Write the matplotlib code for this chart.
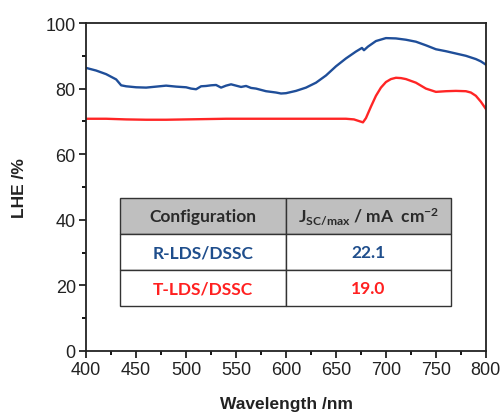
import numpy as np
import matplotlib
matplotlib.use("Agg")
import matplotlib.pyplot as plt
from matplotlib.ticker import MultipleLocator

plt.rcParams['font.family'] = ['Liberation Sans', 'DejaVu Sans']
plt.rcParams['mathtext.default'] = 'regular'

# LHE curves
wl_r = [400, 410, 420, 430, 435, 440, 450, 460, 470, 480, 490, 500, 505, 510, 515,
        520, 525, 530, 535, 540, 545, 550, 555, 560, 565, 570, 580, 590, 595, 600,
        610, 620, 630, 640, 650, 660, 670, 676, 678, 682, 690, 700, 710, 720, 730,
        740, 750, 760, 770, 780, 790, 795, 800]
lhe_r = [86.3, 85.5, 84.4, 82.8, 81.0, 80.7, 80.4, 80.3, 80.6, 80.9, 80.6, 80.4, 80.0, 79.8, 80.7,
         80.8, 81.0, 81.1, 80.3, 80.9, 81.3, 80.9, 80.5, 80.8, 80.2, 80.0, 79.2, 78.8, 78.5, 78.6,
         79.3, 80.3, 81.8, 84.0, 86.8, 89.2, 91.3, 92.4, 91.7, 92.8, 94.5, 95.4, 95.3, 94.9, 94.3,
         93.2, 92.0, 91.4, 90.7, 90.0, 89.0, 88.3, 87.3]

wl_t = [400, 420, 440, 460, 480, 500, 520, 540, 560, 580, 600, 620, 640, 660, 668,
        674, 677, 680, 685, 690, 695, 700, 705, 710, 715, 720, 730, 740, 750, 760,
        770, 780, 785, 790, 795, 800]
lhe_t = [70.8, 70.8, 70.6, 70.5, 70.5, 70.6, 70.7, 70.8, 70.8, 70.8, 70.8, 70.8, 70.8, 70.8, 70.6,
         70.0, 69.7, 71.0, 74.5, 77.8, 80.3, 82.0, 82.9, 83.3, 83.2, 82.9, 81.8, 80.0, 79.0, 79.2,
         79.3, 79.2, 78.8, 77.8, 76.0, 73.8]

configs = ['R-LDS/DSSC', 'T-LDS/DSSC']
jsc = ['22.1', '19.0']
blue = '#1f4e99'
red = '#ff2525'
txt_colors = ['#1f4e8c', '#ff2020']

fig = plt.figure(figsize=(5.04, 4.14), dpi=100)
ax = fig.add_axes([0.171, 0.150, 0.793, 0.792])

ax.plot(wl_r, lhe_r, color=blue, lw=1.7)
ax.plot(wl_t, lhe_t, color=red, lw=1.7)

ax.set_xlim(400, 800)
ax.set_ylim(0, 100)
ax.xaxis.set_major_locator(MultipleLocator(50))
ax.xaxis.set_minor_locator(MultipleLocator(25))
ax.yaxis.set_major_locator(MultipleLocator(20))
ax.yaxis.set_minor_locator(MultipleLocator(10))
ax.tick_params(which='major', direction='out', length=5, width=1.3, labelsize=13,
               colors='#222222', pad=2.5)
ax.tick_params(which='minor', direction='out', length=3, width=1.3)
for s in ax.spines.values():
    s.set_linewidth(1.3)
    s.set_color('#222222')

ax.set_xlabel('Wavelength /nm', fontsize=12.5, fontweight='bold', labelpad=13, color='#222222')
ax.set_ylabel('LHE /%', fontsize=12.5, fontweight='bold', labelpad=13, color='#222222')

# table
header = ['Configuration', r'J$_{SC/max}$ / mA  cm$^{-2}$']
cells = [[c, j] for c, j in zip(configs, jsc)]
tab = ax.table(cellText=[header] + cells, cellLoc='center',
               bbox=[0.085, 0.137, 0.8275, 0.329])
tab.auto_set_font_size(False)
for (r, c), cell in tab.get_celld().items():
    cell.set_edgecolor('#333333')
    cell.set_linewidth(1.0)
    t = cell.get_text()
    t.set_fontfamily(['Lato', 'DejaVu Sans'])
    t.set_fontweight('bold')
    t.set_fontsize(12.5)
    if r == 0:
        cell.set_facecolor('#bfbfbf')
        t.set_color('#2a2a2a')
    else:
        cell.set_facecolor('white')
        t.set_color(txt_colors[r - 1])

fig.savefig('out.png', dpi=100)
